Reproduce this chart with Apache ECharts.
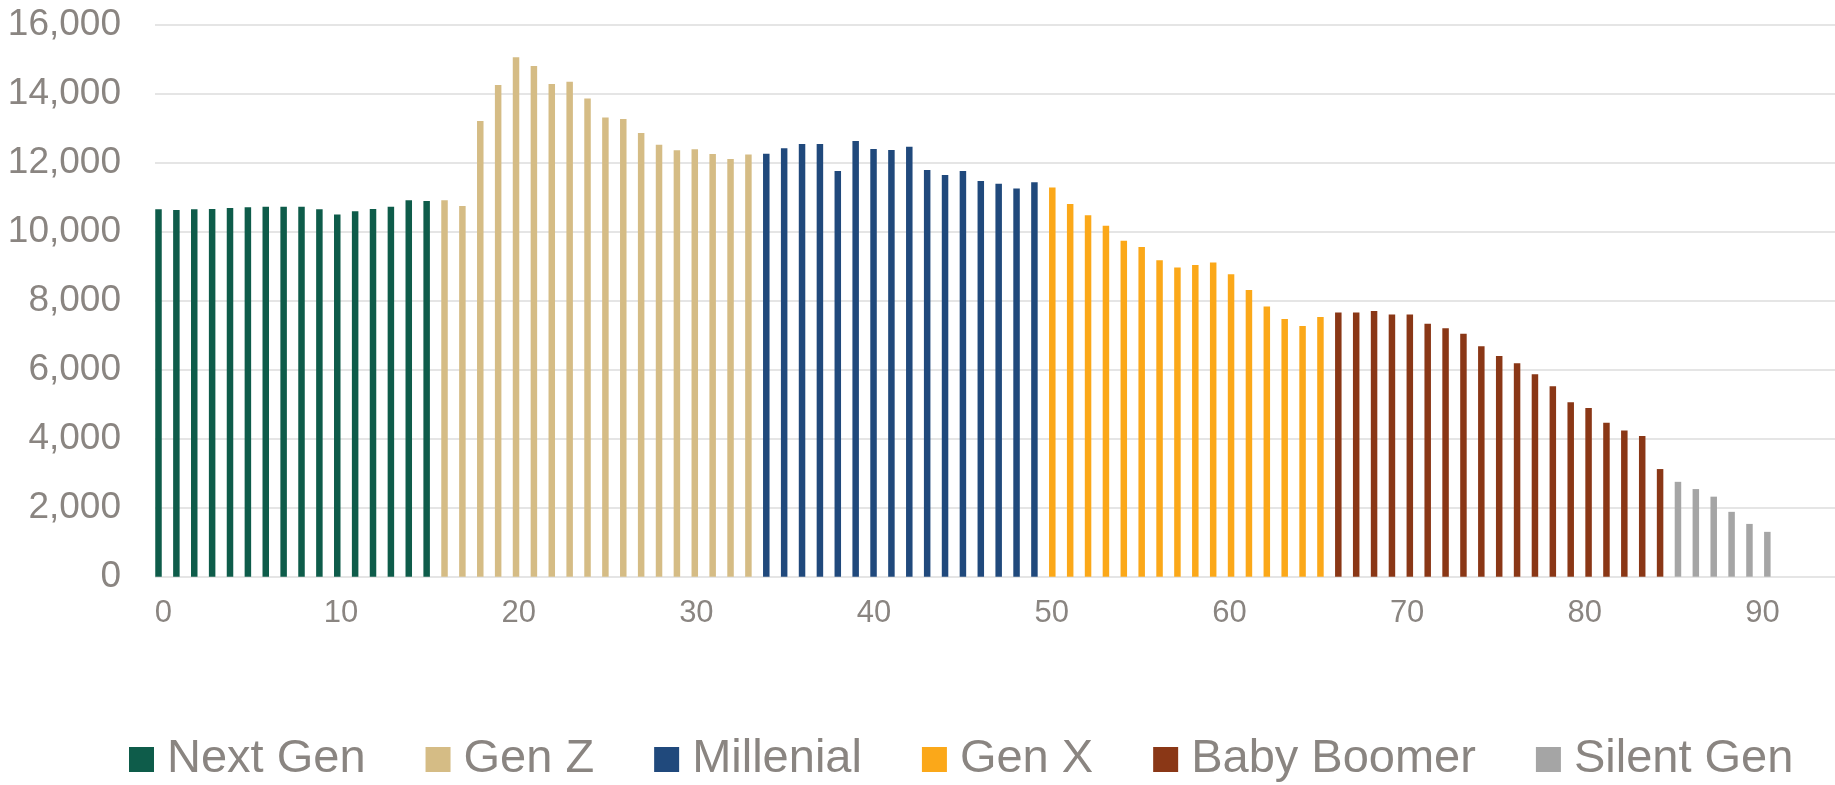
<!DOCTYPE html>
<html>
<head>
<meta charset="utf-8">
<title>Population by age and generation</title>
<script src="https://cdn.jsdelivr.net/npm/echarts@6/dist/echarts.min.js"></script>
<style>
  html, body { margin: 0; padding: 0; background: #ffffff; }
  #chart { width: 1835px; height: 785px; }
</style>
</head>
<body>
<div id="chart"></div>
<script>
// Population count for each single year of age, grouped by generation
const generations = ['Next Gen', 'Gen Z', 'Millenial', 'Gen X', 'Baby Boomer', 'Silent Gen'];
const firstAges = [0, 16, 34, 50, 66, 85];

const nextGen = [10650, 10630, 10650, 10660, 10690, 10710, 10720, 10720, 10720, 10650, 10500, 10590, 10660, 10720, 10910, 10890];
const genZ = [10910, 10745, 13210, 14250, 15060, 14800, 14280, 14350, 13860, 13310, 13270, 12860, 12520, 12360, 12390, 12250, 12110, 12240];
const millenial = [12260, 12420, 12540, 12540, 11760, 12630, 12400, 12370, 12460, 11790, 11640, 11760, 11470, 11390, 11250, 11430];
const genX = [11280, 10800, 10480, 10170, 9740, 9560, 9170, 8960, 9035, 9110, 8770, 8310, 7830, 7470, 7270, 7530];
const babyBoomer = [7660, 7660, 7700, 7600, 7600, 7330, 7200, 7040, 6680, 6400, 6190, 5870, 5520, 5060, 4890, 4460, 4240, 4080, 3120];
const silentGen = [2750, 2540, 2320, 1880, 1530, 1300];

const valueTicks = { min: 0, max: 16000, step: 2000 };
const ageTicks = { min: 0, max: 90, step: 10 };

const seriesValues = [nextGen, genZ, millenial, genX, babyBoomer, silentGen];
const colors = ['#0E5C4A', '#D5BC85', '#20497C', '#FBA819', '#8A3716', '#A5A5A5'];

const textColor = '#8A8581';
const fontFamily = '"Liberation Sans", Arial, sans-serif';

const series = generations.map((name, g) => ({
  name: name,
  type: 'bar',
  xAxisIndex: 0,
  yAxisIndex: 0,
  barWidth: 6.5,
  barGap: '-100%',
  clip: false,
  itemStyle: { color: colors[g] },
  data: seriesValues[g].map((v, k) => [firstAges[g] + k, v])
}));

const chart = echarts.init(document.getElementById('chart'), null, { renderer: 'canvas' });

chart.setOption({
  animation: false,
  backgroundColor: '#ffffff',
  textStyle: { fontFamily: fontFamily },
  grid: [
    // plot area: bars and horizontal gridlines
    { left: 155, right: 0, top: 24.7, bottom: 208.3, containLabel: false },
    // age tick labels along the bottom
    { left: 163.3, right: 72.5, top: 24.7, bottom: 208.3, containLabel: false }
  ],
  xAxis: [
    {
      gridIndex: 0,
      type: 'value',
      min: -0.196,
      max: 93.785,
      axisLine: { show: false },
      axisTick: { show: false },
      axisLabel: { show: false },
      splitLine: { show: false }
    },
    {
      gridIndex: 1,
      type: 'value',
      min: ageTicks.min,
      max: ageTicks.max,
      interval: ageTicks.step,
      axisLine: { show: false },
      axisTick: { show: false },
      splitLine: { show: false },
      axisLabel: {
        color: textColor,
        fontSize: 31,
        fontFamily: fontFamily,
        margin: 21
      }
    }
  ],
  yAxis: [
    {
      gridIndex: 0,
      type: 'value',
      min: valueTicks.min,
      max: valueTicks.max,
      interval: valueTicks.step,
      axisLine: { show: false },
      axisTick: { show: false },
      splitLine: { show: true, lineStyle: { color: '#E5E5E5', width: 2 } },
      axisLabel: {
        color: textColor,
        fontSize: 37,
        fontFamily: fontFamily,
        margin: 34,
        formatter: v => v.toLocaleString('en-US')
      }
    },
    {
      gridIndex: 1,
      type: 'value',
      min: valueTicks.min,
      max: valueTicks.max,
      show: false
    }
  ],
  legend: {
    data: generations,
    left: 129,
    top: 736,
    padding: 0,
    orient: 'horizontal',
    icon: 'rect',
    itemWidth: 25,
    itemHeight: 25,
    itemGap: 60,
    selectedMode: false,
    textStyle: {
      color: textColor,
      fontSize: 47,
      fontFamily: fontFamily,
      padding: [0, 0, 0, 8]
    }
  },
  series: series
});
</script>
</body>
</html>
